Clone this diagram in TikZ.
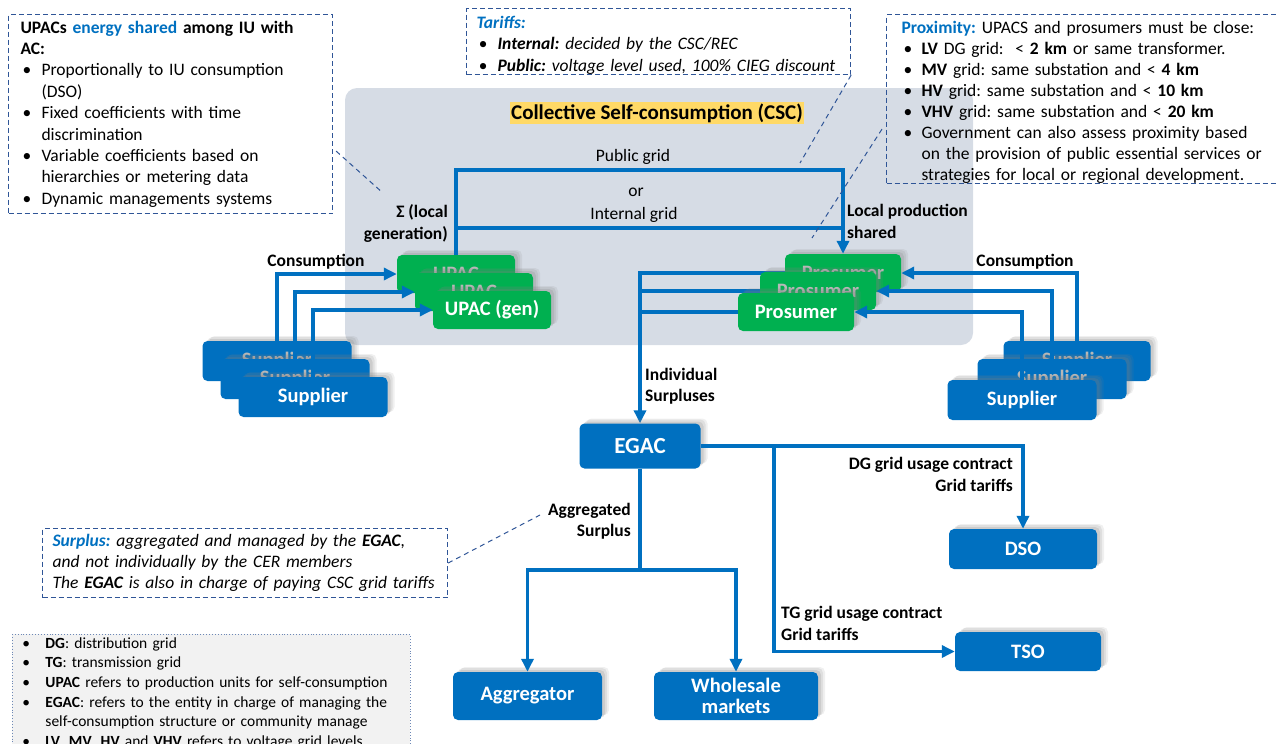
\documentclass[tikz,border=0pt]{standalone}
\usepackage{fontspec}
\setmainfont{Carlito}
\usetikzlibrary{arrows.meta,shadows,backgrounds}
\definecolor{egblue}{HTML}{0070C0}
\definecolor{eggreen}{HTML}{00B050}
\definecolor{cscgray}{HTML}{D6DCE5}
\definecolor{dashblue}{HTML}{2F5597}
\definecolor{hlyellow}{HTML}{FFD966}
\definecolor{legendgray}{HTML}{F2F2F2}
\newcommand{\bitem}[2][2pt]{\par\hangindent=#2\hangafter=1\noindent\hbox to #2{\hspace{#1}\textbullet\hss}}
\begin{document}
\frenchspacing
\begin{tikzpicture}[x=1pt,y=-1pt,
    every node/.style={font=\fontsize{17.5}{21.4}\selectfont},
    unit/.style={rounded corners=5pt, text=white, inner sep=0pt, font=\fontsize{20.5}{21.5}\selectfont\bfseries,
        drop shadow={shadow xshift=7pt, shadow yshift=5pt, opacity=0.12},
        drop shadow={shadow xshift=5pt, shadow yshift=4pt, opacity=0.15},
        drop shadow={shadow xshift=3pt, shadow yshift=2pt, opacity=0.2}},
    gen/.style={unit, fill=eggreen, minimum width=118pt, minimum height=38pt},
    actor/.style={unit, fill=egblue, minimum width=149pt, minimum height=40pt},
    hidden/.style={text=white!72!black},
    lbl/.style={inner sep=0pt, font=\fontsize{17.5}{21.4}\selectfont\bfseries},
    plain/.style={inner sep=0pt},
    link/.style={draw=egblue, line width=3.5pt},
    flow/.style={link, -{Triangle[length=13pt,width=12pt]}},
    notebox/.style={draw=dashblue, line width=1.1pt, dash pattern=on 5pt off 3pt, anchor=north west, align=left, inner ysep=0pt},
    leader/.style={draw=dashblue, line width=1pt, dash pattern=on 5pt off 4pt}]
    \useasboundingbox (0,0) rectangle (1277,744);
    \begin{pgfonlayer}{background}
        \fill[cscgray, rounded corners=12pt] (345,88) rectangle (973,345);
    \end{pgfonlayer}
    \node[fill=hlyellow, inner xsep=1pt, inner ysep=2pt, font=\fontsize{21}{23}\selectfont\bfseries] (csctitle) at (657,113) {Collective Self-consumption (CSC)};

    \node[gen, hidden] (upac1) at (456,274) {UPAC};
    \node[gen, hidden] (upac2) at (474,292) {UPAC};
    \node[gen] (upac3) at (492,310) {UPAC (gen)};
    \node[gen, hidden, minimum width=116pt] (pros1) at (843,273) {Prosumer};
    \node[gen, hidden, minimum width=116pt] (pros2) at (818,291) {Prosumer};
    \node[gen, minimum width=116pt] (pros3) at (796,312) {Prosumer};
    \node[actor, hidden] (supl1) at (277,361) {Supplier};
    \node[actor, hidden] (supl2) at (295,379) {Supplier};
    \node[actor] (supl3) at (313,397) {Supplier};
    \node[actor, hidden, minimum width=147pt] (supr1) at (1077,361) {Supplier};
    \node[actor, hidden] (supr2) at (1052,379) {Supplier};
    \node[actor] (supr3) at (1022,400) {Supplier};
    \node[actor, minimum width=121pt, minimum height=45pt, font=\fontsize{23}{24}\selectfont\bfseries] (egac) at (640,446) {EGAC};
    \node[actor, minimum width=148pt] (dso) at (1023,549) {DSO};
    \node[actor, minimum width=146pt, minimum height=39pt] (tso) at (1028,651.5) {TSO};
    \node[actor, minimum height=48pt] (aggr) at (527.5,696) {Aggregator};
    \node[actor, minimum width=164pt, minimum height=48pt, align=center] (whole) at (736,696) {Wholesale\\markets};

    \coordinate (pg) at (649,170);
    \coordinate (ig) at (649,228);
    \draw[flow] (upac1.north) |- (pg) -| (pros1.north);
    \draw[link] (upac1.north |- ig) -- (pros1.north |- ig);
    \node[plain] (pubtxt) at (633,157) {Public grid};
    \node[plain] (ortxt) at (636,192) {or};
    \node[plain] (inttxt) at (634,215) {Internal grid};
    \node[lbl, align=right, anchor=east] (sigmatxt) at (448,223.5) {Σ (local\\generation)};
    \node[lbl, align=left, anchor=west] (loctxt) at (847,221.5) {Local production\\shared};

    \draw[flow] (supl1.north) |- (upac1.west);
    \draw[flow] (supl2.north) |- (upac2.west);
    \draw[flow] (supl3.north) |- (upac3.west);
    \draw[flow] (supr1.north) |- (pros1.east);
    \draw[flow] (supr2.north) |- (pros2.east);
    \draw[flow] (supr3.north) |- (pros3.east);
    \node[lbl] (consl) at (316,262) {Consumption};
    \node[lbl] (consr) at (1025,262) {Consumption};

    \begin{pgfonlayer}{background}
        \draw[flow] (pros1.west) -| (egac.north);
        \draw[link] (pros2.west) -- (pros2.west -| egac.north);
        \draw[link] (pros3.west) -- (pros3.west -| egac.north);
    \end{pgfonlayer}
    \node[lbl, align=left, anchor=west] (indtxt) at (645,386.5) {Individual\\Surpluses};

    \coordinate (tgx) at (774,446);
    \coordinate (aggsplit) at (640,570);
    \draw[flow] (egac.east) -| (dso.north);
    \draw[flow] (egac.east -| tgx) |- (tso.west);
    \draw[link] (egac.south) -- (egac.south |- aggsplit);
    \draw[flow] (egac.south |- aggsplit) -| (aggr.north);
    \draw[flow] (egac.south |- aggsplit) -| (whole.north);
    \node[lbl, align=right, anchor=east] (aggtxt) at (631,521.5) {Aggregated\\Surplus};
    \node[lbl, align=right, anchor=east] (dgtxt) at (1013,474.5) {DG grid usage contract\\Grid tariffs};
    \node[lbl, align=left, anchor=west] (tgtxt) at (781,623.5) {TG grid usage contract\\Grid tariffs};

    \node[notebox, text width=300pt, inner xsep=12pt, minimum height=199pt] (sharebox) at (8,14) {%
        \textbf{UPACs \textcolor{egblue}{energy shared} among IU with\newline AC:}
        \bitem{21pt}Proportionally to IU consumption\newline (DSO)
        \bitem{21pt}Fixed coefficients with time\newline discrimination
        \bitem{21pt}Variable coefficients based on\newline hierarchies or metering data
        \bitem{21pt}Dynamic managements systems\par};
    \node[notebox, text width=364pt, inner xsep=10pt, minimum height=66pt, font=\fontsize{17.5}{21.4}\selectfont\itshape] (tarbox) at (466,8) {%
        \par\vspace*{-2pt}\noindent\textcolor{egblue}{\textbf{Tariffs:}}
        \bitem{21pt}\textbf{Internal:} decided by the CSC/REC
        \bitem{21pt}\textbf{Public:} voltage level used, 100\% CIEG discount\par};
    \node[notebox, text width=380pt, inner xsep=15pt, minimum height=169pt, font=\fontsize{17.5}{21}\selectfont] (proxbox) at (886,14) {%
        \par\vspace*{-2pt}\noindent\textcolor{egblue}{\textbf{Proximity:}} UPACS and prosumers must be close:
        \bitem{20pt}\textbf{LV} DG grid:~ < \textbf{2 km} or same transformer.
        \bitem{20pt}\textbf{MV} grid: same substation and < \textbf{4 km}
        \bitem{20pt}\textbf{HV} grid: same substation and < \textbf{10 km}
        \bitem{20pt}\textbf{VHV} grid: same substation and < \textbf{20 km}
        \bitem{20pt}Government can also assess proximity based\newline on the provision of public essential services or\newline strategies for local or regional development.\par};
    \node[notebox, text width=385pt, inner xsep=10pt, minimum height=69pt, font=\fontsize{17.5}{21.2}\selectfont\itshape] (srpbox) at (42,528) {%
        \textcolor{egblue}{\textbf{Surplus:}} aggregated and managed by the \textbf{EGAC},\newline
        and not individually by the CER members\newline
        The \textbf{EGAC} is also in charge of paying CSC grid tariffs\par};
    \node[draw=dashblue!70, dotted, line width=0.9pt, fill=legendgray, anchor=north west, align=left, text width=386pt, inner xsep=6pt, inner ysep=0pt,
        font=\fontsize{15.5}{19.7}\selectfont] (legend) at (12,634) {%
        \vspace*{-6pt}
        \bitem[4pt]{27pt}\textbf{DG}: distribution grid
        \bitem[4pt]{27pt}\textbf{TG}: transmission grid
        \bitem[4pt]{27pt}\textbf{UPAC} refers to production units for self-consumption
        \bitem[4pt]{27pt}\textbf{EGAC}: refers to the entity in charge of managing the\newline self-consumption structure or community manage
        \bitem[4pt]{27pt}\textbf{LV}, \textbf{MV}, \textbf{HV} and \textbf{VHV} refers to voltage grid levels\par};

    \coordinate (sigmaend) at (383,193);
    \coordinate (tarend) at (800,163);
    \coordinate (proxend) at (812,238);
    \coordinate (srpend) at (540,515);
    \draw[leader] (sharebox.south east) ++(3,-63) -- (sigmaend);
    \draw[leader] (tarbox.south east) -- (tarend);
    \draw[leader] (proxbox.south west) ++(-4,-55) -- (proxend);
    \draw[leader] (srpbox.east) -- (srpend);
\end{tikzpicture}
\end{document}
